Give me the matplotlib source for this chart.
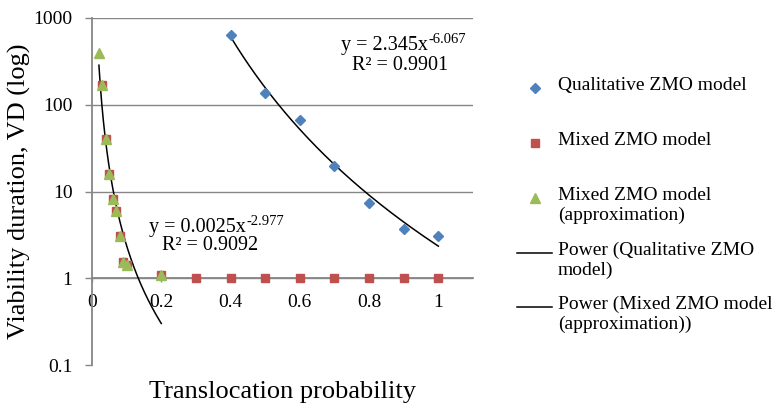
import matplotlib.pyplot as plt
from matplotlib.lines import Line2D
import numpy as np

# Data
qual_x = [0.4, 0.5, 0.6, 0.7, 0.8, 0.9, 1.0]
qual_y = [640, 137, 66, 19.5, 7.4, 3.7, 3.1]

mixed_x = [0.03, 0.04, 0.05, 0.06, 0.07, 0.08, 0.09, 0.1, 0.2, 0.3, 0.4, 0.5, 0.6, 0.7, 0.8, 0.9, 1.0]
mixed_y = [168, 40, 16, 8.2, 5.9, 3.1, 1.52, 1.42, 1.08, 1, 1, 1, 1, 1, 1, 1, 1]

approx_x = [0.02, 0.03, 0.04, 0.05, 0.06, 0.07, 0.08, 0.09, 0.1, 0.2]
approx_y = [400, 168, 40, 16, 8.2, 5.9, 3.1, 1.52, 1.42, 1.08]

# Power trendlines y = a * x^b
qual_fit = (2.345, -6.067)
approx_fit = (0.0025, -2.977)

x_ticks = [0, 0.2, 0.4, 0.6, 0.8, 1.0]
x_tick_labels = ["0", "0.2", "0.4", "0.6", "0.8", "1"]
y_ticks = [0.1, 1, 10, 100, 1000]
y_tick_labels = ["0.1", "1", "10", "100", "1000"]

legend_labels = ["Qualitative ZMO model",
                 "Mixed ZMO model",
                 "Mixed ZMO model\n(approximation)",
                 "Power (Qualitative ZMO\nmodel)",
                 "Power (Mixed ZMO model\n(approximation))"]

blue = "#4F81BD"
red = "#C0504D"
green = "#9BBB59"
grey = "#868686"

plt.rcParams["font.family"] = ["Liberation Serif", "DejaVu Serif"]

fig = plt.figure(figsize=(7.75, 4.04), dpi=100)
ax = fig.add_axes([92 / 775, 1 - 365 / 404, 381 / 775, 347 / 404])

# trendlines
xf = np.linspace(min(qual_x), max(qual_x), 200)
ax.plot(xf, qual_fit[0] * xf ** qual_fit[1], color="black", lw=1.1, zorder=3)
xf2 = np.linspace(min(approx_x), max(approx_x), 200)
ax.plot(xf2, approx_fit[0] * xf2 ** approx_fit[1], color="black", lw=1.1, zorder=3)

# series
ax.plot(qual_x, qual_y, ls="none", marker="D", ms=5, color=blue, mec=blue, zorder=4)
ax.plot(mixed_x, mixed_y, ls="none", marker="s", ms=6, color=red, mec=red, zorder=4)
ax.plot(approx_x, approx_y, ls="none", marker="^", ms=7, color=green, mec=green, zorder=5)

ax.set_yscale("log")
ax.set_ylim(0.1, 1000)
ax.set_xlim(0, 1.1)
ax.set_xticks(x_ticks)
ax.set_xticklabels(x_tick_labels)
ax.set_yticks(y_ticks)
ax.set_yticklabels(y_tick_labels)
ax.yaxis.set_minor_locator(plt.NullLocator())
ax.tick_params(axis="both", labelsize=14, colors=grey, labelcolor="black", width=1.0)
ax.tick_params(axis="y", length=5, pad=9)
ax.tick_params(axis="x", length=3, pad=8)

ax.spines["top"].set_visible(False)
ax.spines["right"].set_visible(False)
ax.spines["bottom"].set_position(("data", 1))
for s in ["left", "bottom"]:
    ax.spines[s].set_color(grey)
    ax.spines[s].set_linewidth(1.3)

ax.grid(axis="y", color=grey, lw=1.0)
ax.set_axisbelow(True)
ax.yaxis.get_gridlines()[0].set_visible(False)

ax.set_ylabel("Viability duration, VD (log)", fontsize=19)
ax.yaxis.set_label_coords(-0.16, 0.5)
ax.set_xlabel("Translocation probability", fontsize=19)
ax.xaxis.set_label_coords(0.5, -0.045)


def equation(x_right, y_base, coef, expo, r2, r2_x, r2_y):
    # main part, then the exponent as a small superscript after it
    main = ax.text(x_right, y_base, "y = %sx" % coef, transform=ax.transAxes,
                   ha="right", va="baseline", fontsize=14.5)
    ax.annotate("%.3f" % expo, xy=(1, 0), xycoords=main, xytext=(0.3, 8.5),
                textcoords="offset points", ha="left", va="baseline", fontsize=10.5)
    ax.text(r2_x, r2_y, "R² = %s" % r2, transform=ax.transAxes,
            ha="center", va="baseline", fontsize=14.5)


equation(0.882, 0.908, "2.345", qual_fit[1], "0.9901", 0.808, 0.850)
equation(0.404, 0.383, "0.0025", approx_fit[1], "0.9092", 0.310, 0.331)

# legend drawn entry by entry (Excel aligns the key with the first text line)
handles = [dict(marker="D", color=blue, ms=5, ls="none"),
           dict(marker="s", color=red, ms=6, ls="none"),
           dict(marker="^", color=green, ms=7, ls="none"),
           dict(marker=None, color="black", lw=1.1, ls="-"),
           dict(marker=None, color="black", lw=1.1, ls="-")]
row_y = [88, 143, 198, 253, 307]
for label, h, ry in zip(legend_labels, handles, row_y):
    fy = 1 - ry / 404
    if h["marker"] is None:
        fig.add_artist(Line2D([517 / 775, 552 / 775], [fy, fy], color=h["color"],
                              lw=h["lw"], transform=fig.transFigure))
    else:
        fig.add_artist(Line2D([535 / 775], [fy], marker=h["marker"], color=h["color"],
                              ms=h["ms"], ls="none", transform=fig.transFigure))
    fig.text(558 / 775, fy + 11 / 404, label, ha="left", va="top",
             fontsize=14, linespacing=1.2)

fig.savefig("out.png", dpi=100)
